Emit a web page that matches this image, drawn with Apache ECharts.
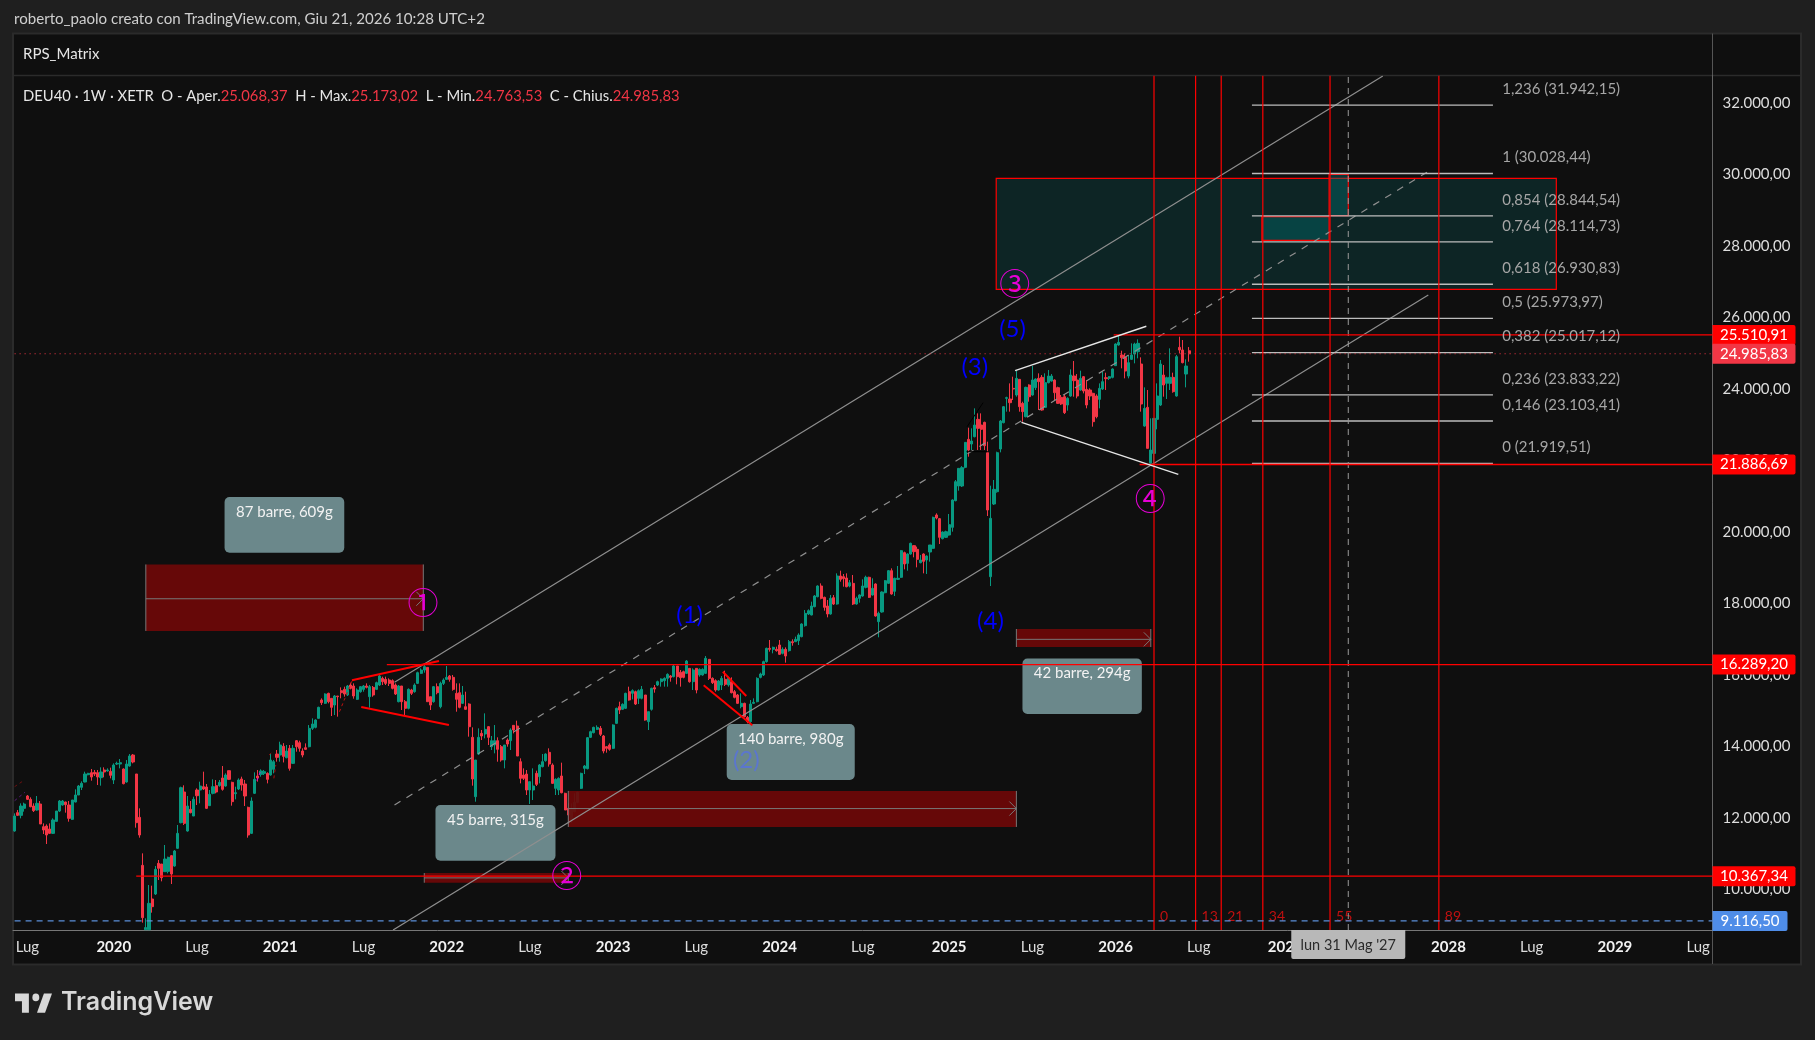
<!DOCTYPE html>
<html><head><meta charset="utf-8">
<style>html,body{margin:0;padding:0;background:#1f1f1f;overflow:hidden}#c{width:1815px;height:1040px}</style>
<script src="https://cdn.jsdelivr.net/npm/echarts@6/dist/echarts.min.js"></script>
</head><body><div id="c"></div>
<script>
// weekly candles [open, close, low, high], first week 2019-06-03
const weeks2019 = [[11632,12051,11613,12126],[12145,12070,12051,12219],[12070,12331,11986,12406],[12266,12387,12173,12425],[12611,12518,12499,12639],[12518,12313,12294,12574],[12331,12201,12163,12406],[12219,12406,12201,12611],[12387,11828,11828,12471],[11753,11660,11548,11846],[11772,11520,11268,11818],[11688,11566,11548,11846],[11566,11940,11548,11986],[11902,12191,11893,12191],[12191,12471,12163,12499],[12359,12471,12341,12499],[12443,12369,12145,12453],[12359,11986,11893,12471],[11958,12499,11940,12499],[12443,12639,12434,12798],[12639,12891,12639,12919],[12854,12965,12779,13021],[13003,13227,12993,13292],[13208,13245,13190,13260],[13264,13143,13040,13367],[13273,13227,13171,13339],[13264,13143,12919,13339],[13124,13283,12900,13413],[13339,13283,13133,13413],[13311,13339,13292,13385]];
const weeks2020 = [[13301,13190,13105,13404],[13059,13478,12947,13525],[13506,13525,13478,13572],[13506,13544,13385,13646],[13367,12956,12937,13385],[13003,13506,12984,13618],[13450,13730,13432,13786],[13758,13562,13525,13786],[13227,11865,11725,13227],[12014,11520,11445,12266],[10671,9207,9067,11007],[8870,8930,8870,9188],[8870,9608,8870,10121],[9729,9515,9347,10102],[9869,10559,9841,10652],[10727,10587,10261,10820],[10708,10326,10223,10708],[10494,10848,10494,11240],[10503,10895,10447,10914],[10941,10428,10149,10960],[10652,11072,10634,11100],[11147,11566,11128,11800],[11865,12844,11846,12872],[12723,11846,11800,12910],[11632,12331,11613,12611],[12238,12145,12126,12471],[12051,12518,12051,12592],[12779,12620,12359,12825],[12779,12891,12406,13012],[12872,12807,12779,13292],[12863,12266,12247,12947],[12341,12658,12331,12779],[12686,12872,12658,13077],[12900,12723,12686,13059],[12900,12993,12872,13059],[13115,12798,12760,13450],[12891,13199,12872,13245],[13320,13077,13059,13320],[12993,12453,12341,13012],[12676,12704,12518,12872],[12807,13059,12779,13105],[13087,12919,12760,13152],[12947,12611,12331,13059],[12294,11520,11445,12313],[11566,12471,11548,12574],[12686,13077,12667,13273],[13171,13115,13012,13339],[13217,13311,13152,13357],[13245,13292,13199,13339],[13245,13077,12965,13273],[13199,13618,13180,13805],[13357,13572,13245,13618]];
const weeks2021 = [[13786,13693,13572,13898],[13758,14038,13572,14131],[14000,13720,13550,14090],[13683,13870,13665,14038],[13945,13385,13320,14038],[13525,13945,13506,14038],[14159,13991,13851,14178],[14103,13945,13851,14159],[13870,13758,13693,13945],[13963,13917,13898,14084],[13991,14504,13973,14597],[14504,14626,14458,14784],[14532,14737,14504,14756],[14784,15092,14775,15110],[15297,15222,15157,15344],[15204,15465,15185,15484],[15484,15250,15204,15502],[15344,15092,14849,15344],[15157,15409,14877,15437],[15409,15390,14831,15409],[15558,15502,15344,15651],[15595,15465,15390,15670],[15437,15689,15409,15717],[15717,15623,15595,15782],[15689,15409,15334,15763],[15316,15577,15297,15623],[15530,15670,15502,15689],[15595,15689,15530,15717],[15689,15651,15623,15763],[15390,15670,15082,15717],[15651,15437,15390,15689],[15595,15782,15577,15810],[15717,15969,15689,15997],[15903,15810,15717,15950],[15875,15763,15717,15950],[15857,15763,15689,15903],[15838,15623,15595,15875],[15717,15465,15437,15763],[15250,15689,15232,15717],[15689,15250,15017,15689],[15250,15064,14877,15297],[15064,15595,15036,15623],[15577,15484,15437,15610],[15530,15717,15502,15763],[15763,16062,15745,16090],[16043,16136,16024,16183],[16136,16230,16062,16276],[16211,15250,15250,16211],[15390,15157,15017,15390],[15250,15670,15222,15689],[15670,15502,15455,15763],[15110,15763,15064,15810]];
const weeks2022 = [[15763,15857,15717,15903],[15875,15931,15857,16248],[15969,15875,15810,15997],[15931,15595,15558,15997],[15484,15316,14970,15763],[15502,15092,15064,15763],[15204,15437,15185,15689],[15110,15036,15017,15530],[15185,14551,14271,15204],[14253,13087,12900,14532],[12592,13618,12452,13618],[13786,14252,13758,14504],[14364,14290,14178,14458],[14346,14476,14224,14924],[14551,14252,14038,14570],[13991,14159,13898,14290],[14038,14159,13805,14597],[14159,13917,13571,14253],[13991,13618,13571,14038],[13618,14038,13385,14038],[14178,14066,13991,14224],[14159,14458,13898,14504],[14588,14458,14364,14597],[14570,13730,13730,14719],[13571,13105,12965,13665],[13198,13105,13059,13385],[13226,12779,12639,13338],[12779,13012,12387,13012],[12779,12891,12499,13385],[13245,12937,12891,13320],[13152,13478,12965,13506],[13432,13571,13413,13786],[13600,13786,13572,13805],[13833,13507,13432,13945],[13478,12965,12947,13525],[12825,13077,12639,13105],[12779,13105,12639,13133],[13171,12704,12686,13544],[12686,12219,12219,12704],[12266,12080,11860,12406],[11940,12266,11860,12406],[12173,12434,12154,12686],[12434,12714,12406,12732],[12826,13245,12807,13264],[13385,13450,13226,13478],[13376,14243,13357,14262],[14253,14411,14234,14439],[14383,14532,14364,14551],[14476,14532,14458,14588],[14504,14337,14290,14570],[14290,13870,13805,14318],[13991,13945,13824,14010],[14038,13917,13879,14085]];
const weeks2023 = [[13945,14598,13926,14617],[14644,15064,14626,15083],[15111,15017,14905,15250],[15036,15176,15017,15204],[15064,15484,15045,15502],[15530,15297,15279,15670],[15484,15558,15316,15596],[15530,15185,15157,15558],[15344,15558,15185,15596],[15344,15596,15316,15689],[15437,14737,14719,15437],[14691,14971,14458,14971],[15036,15624,15000,15642],[15642,15605,15502,15717],[15717,15810,15689,15838],[15810,15885,15670,15903],[15838,15903,15670,15931],[15903,16015,15670,16043],[15969,15931,15810,15997],[15950,16249,15931,16305],[16249,15950,15736,16249],[16071,15922,15670,16137],[16090,15931,15903,16118],[16043,16388,16025,16416],[16183,15810,15782,16183],[15810,16137,15577,16183],[16183,15577,15484,16183],[15997,16155,15950,16183],[15997,16155,15979,16183],[16043,16463,16025,16528],[16435,15903,15857,16435],[15903,15782,15745,15931],[15838,15577,15530,15875],[15577,15829,15558,15857],[15717,15903,15577,15969],[15875,15736,15689,16118],[15717,15903,15670,15931],[15810,15502,15484,15931],[15530,15372,15344,15577],[15437,15204,15185,15465],[15111,15204,15064,15484],[15204,14831,14812,15222],[14812,14691,14644,14850],[14691,15185,14644,15297],[15204,15232,15185,15344],[15250,15903,15232,15931],[15931,16025,15903,16062],[15997,16370,15969,16398],[16370,16743,16342,16762],[16743,16715,16650,16976],[16715,16771,16603,16790],[16715,16678,16650,16790]];
const weeks2024 = [[16836,16575,16556,16976],[16603,16715,16575,16771],[16715,16528,16342,16771],[16678,16929,16650,16976],[16929,16901,16817,16995],[16929,16995,16929,17070],[16957,17116,16836,17163],[17070,17424,17051,17443],[17377,17722,17349,17815],[17704,17797,17676,17834],[17676,17927,17666,18049],[17909,18207,17890,18235],[18188,18487,18170,18506],[18487,18142,18114,18561],[18170,17890,17797,18189],[17927,17704,17610,18095],[17704,18142,17685,18235],[18161,17983,17955,18235],[17983,18767,17965,18841],[18767,18673,18608,18916],[18748,18692,18468,18823],[18711,18468,18450,18841],[18487,18580,18450,18655],[18561,17983,17955,18795],[17983,18142,17965,18189],[18142,18235,18021,18254],[18207,18487,18189,18674],[18450,18730,18422,18776],[18730,18170,18151,18748],[18235,18422,18217,18702],[18543,17648,17629,18562],[17489,17722,17051,17769],[17760,18319,17741,18338],[18300,18636,18282,18655],[18562,18916,18543,18935],[18916,18263,18244,18981],[18338,18702,18207,18720],[18674,18702,18655,19047],[18730,19476,18711,19495],[19420,19103,18953,19448],[19121,19382,18916,19401],[19382,19681,19364,19700],[19616,19448,19289,19634],[19513,19233,19009,19588],[19140,19215,19121,19355],[19382,19177,18841,19401],[19215,19326,18823,19345],[19438,19634,19168,19634],[19541,20408,19522,20427],[20474,20390,20352,20520],[20371,19849,19662,20390],[19811,19998,19793,20017]];
const weeks2025 = [[19849,20007,19830,20035],[19914,20203,19896,20502],[20128,20893,20007,20912],[20875,21406,20856,21453],[21285,21779,21154,21779],[21285,21798,21257,21842],[21807,22506,21779,22506],[22590,22292,22105,22917],[22460,22544,22292,22898],[22665,22991,22646,23458],[23150,22898,22292,23318],[22991,22870,22292,23318],[23066,22413,22292,23085],[22217,20613,20445,22525],[18747,20380,18486,21294],[20781,21191,20753,21453],[21126,22217,21098,22245],[22320,23103,22227,23131],[23057,23504,23038,23523],[23738,23757,23365,23784],[23719,23616,23365,24157],[24017,23999,23691,24344],[23831,24297,23784,24512],[24269,23504,23365,24269],[23598,23365,23085,23644],[23225,24045,23206,24064],[24111,23784,23644,24129],[23831,24251,23812,24642],[24036,24279,23971,24297],[24297,24204,23411,24437],[24325,23411,23392,24390],[23486,24176,23467,24437],[24176,24362,24157,24530],[24222,24362,24204,24418],[24250,23896,23691,24269],[24036,23598,23579,24064],[23766,23579,23551,23831],[23784,23337,23299,23859],[23551,23738,23393,23766],[23803,24391,23784,24549],[24363,24232,23784,24782],[24250,23803,23738,24418],[23971,24297,23952,24512],[24344,23943,23877,24363],[23989,23551,23458,24250],[23971,23803,23691,24017],[23877,23085,22945,23896],[23803,23224,23178,23850],[23709,24017,23458,24157],[23999,24204,23971,24484],[24316,24288,23971,24456],[24297,24344,24250,24363]];
const weeks2026 = [[24325,24558,24297,24577],[24652,25258,24642,25277],[25230,25304,25211,25491],[24950,24875,24577,25071],[24885,24502,24297,24997],[24362,24736,24297,24950],[24829,24950,24810,25277],[24978,25258,24717,25295],[25043,25277,24857,25388],[24698,23579,23365,24885],[22963,23458,22945,24045],[23486,22338,22338,23971],[21919,22292,21900,23178],[22198,23178,21919,23178],[23150,23803,22870,24157],[23551,24698,23523,24810],[24390,24111,23784,24670],[24157,24316,23719,24344],[24157,24325,23971,25137],[24325,23924,23896,24456],[23803,24904,23784,24950],[25165,25090,24997,25463],[25090,24736,24717,25370],[24418,24642,24045,24829],[25068,24985.83,24763.53,25173.02]];
const candleRows = [].concat(weeks2019,weeks2020,weeks2021,weeks2022,weeks2023,weeks2024,weeks2025,weeks2026);

// axes
const barCount = 531;
const yMin = 8862, yMax = 32771;
const priceTicks = [10000,12000,14000,16000,18000,20000,22000,24000,26000,28000,30000,32000];
const timeTicks = {4:'Lug',31:'2020',57:'Lug',83:'2021',109:'Lug',135:'2022',161:'Lug',187:'2023',213:'Lug',239:'2024',265:'Lug',292:'2025',318:'Lug',344:'2026',370:'Lug',397:'2027',423:'Lug',448:'2028',474:'Lug',500:'2029',526:'Lug'};
const weekDates = [];
for (let i=0;i<barCount;i++){ weekDates.push(new Date(Date.UTC(2019,5,3+7*i)).toISOString().slice(0,10)); }

// drawings, in [week index, price]
const tagLevels = [
 {price:10367.34,text:'10.367,34',from:38,kind:'red'},
 {price:16289.20,text:'16.289,20',from:116.3,kind:'red'},
 {price:21886.69,text:'21.886,69',from:351.5,kind:'red'},
 {price:25510.91,text:'25.510,91',from:343.4,kind:'red'},
 {price:24985.83,text:'24.985,83',from:0,kind:'last'},
 {price:9116.50,text:'9.116,50',from:0,kind:'low'}];
const fibLevels = [[31942.15,'1,236 (31.942,15)'],[30028.44,'1 (30.028,44)'],[28844.54,'0,854 (28.844,54)'],[28114.73,'0,764 (28.114,73)'],[26930.83,'0,618 (26.930,83)'],[25973.97,'0,5 (25.973,97)'],[25017.12,'0,382 (25.017,12)'],[23833.22,'0,236 (23.833,22)'],[23103.41,'0,146 (23.103,41)'],[21919.51,'0 (21.919,51)']];
const fibFrom = 386.6, fibTo = 461.9, fibText = 464.8;
const timeZones = [[356,'0'],[369,'13'],[377,'21'],[390,'34'],[411,'55'],[445,'89']];
const timeZonePrice = 9234;
const crosshairWeek = 416.7;
const tealZones = [{a:306.7,b:481.7,hi:29895,lo:26789,k:0},{a:389.7,b:410.7,hi:28820,lo:28160,k:1},{a:410.7,b:416.7,hi:30006,lo:28848,k:1}];
const redBoxes = [{a:41,b:127.7,hi:19090,lo:17230,mid:18130},{a:128,b:173,hi:10456,lo:10185,mid:10320},{a:173,b:313,hi:12753,lo:11746,mid:12260},{a:313,b:355,hi:17284,lo:16780,mid:16995}];
const noteBoxes = [{a:65.6,b:103,hi:20977,lo:19419,t:'87 barre, 609g'},{a:131.5,b:169,hi:12359,lo:10801,t:'45 barre, 315g'},{a:222.5,b:262.5,hi:14626,lo:13059,t:'140 barre, 980g'},{a:314.9,b:352.2,hi:16456,lo:14906,t:'42 barre, 294g'}];
const channelLines = [[118.7,15793,427.5,32757],[118.25,8862,441.7,26629]];
const channelMid = [118.7,12359,441.4,30071];
const redLines = [[105.4,15849,132.6,16389],[108.3,15101,135.7,14598],[221.3,16089,228.6,15409],[215.3,15709,230.5,14590]];
const whiteLines = [[312.6,24511,353.6,25754],[314.6,23067,363.6,21612]];
const blackLines = [[297.6,22944,302.6,23616],[297.4,22245,304.1,22245]];
const smallDashes = [[101.5,14970,105.5,15849,'#c01010'],[0,12480,3.2,12714,'#5a1a7a'],[0,12872,2.6,13030,'#6b1010'],[75.7,13040,77,13339,'#e000e0'],[79.5,13758,80.6,13851,'#8b1010'],[81,13105,81.6,13478,'#b01010']];
const waveLabels = [[210.9,17670,'(1)','#0000ff'],[228.6,13620,'(2)','#5b76cf'],[300,24610,'(3)','#0000ff'],[304.9,17490,'(4)','#0000ff'],[311.8,25660,'(5)','#0000ff']];
const circleLabels = [[127.6,18031,'①'],[172.5,10381,'②'],[312.5,26948,'③'],[354.8,20930,'④']];
const hoverDate = "lun 31 Mag '27";

const FONT = 'Lato, "Liberation Sans", sans-serif';
function pt(api,i,p){const f=Math.floor(i),a=api.coord([f,p]),b=api.coord([f+1,p]);return [a[0]+(b[0]-a[0])*(i-f),a[1]];}
function seg(api,x1,p1,x2,p2,stroke,w,dash){const a=pt(api,x1,p1),b=pt(api,x2,p2);return {type:'line',shape:{x1:a[0],y1:a[1],x2:b[0],y2:b[1]},style:{stroke,lineWidth:w,lineDash:dash||null,fill:null}};}
function box(api,it,style,r){const a=pt(api,it.a,it.hi),b=pt(api,it.b,it.lo);return {type:'rect',shape:{x:a[0],y:a[1],width:b[0]-a[0],height:b[1]-a[1],r:r||0},style};}
function txt(x,y,text,fill,size,opt){return {type:'text',x,y,style:Object.assign({text,fill,font:(opt&&opt.weight||'normal')+' '+size+'px '+(opt&&opt.family||FONT),align:opt&&opt.align||'center',verticalAlign:'middle'})};}
function layer(name,items,draw,z,clip){return {type:'custom',name,coordinateSystem:'cartesian2d',clip:clip!==false,z:z||3,silent:true,animation:false,encode:{x:0,y:1},
  data:items.map((_,i)=>[i,yMin+100]),renderItem:(p,api)=>draw(items[p.dataIndex],api)};}

const series = [
 {type:'candlestick',name:'DEU40',z:2,animation:false,barWidth:2.6,silent:true,
  data:candleRows,
  itemStyle:{color:'#089981',color0:'#f23645',borderColor:'#089981',borderColor0:'#f23645',borderWidth:1}},
 layer('teal',tealZones,(it,api)=>box(api,it,{fill:it.k?'rgba(0,110,110,0.42)':'rgba(8,110,110,0.24)',stroke:'#ff0000',lineWidth:1.2}),3),
 layer('redBoxes',redBoxes,(it,api)=>{
   const a=pt(api,it.a,it.mid),b=pt(api,it.b,it.mid);
   return {type:'group',children:[
     box(api,it,{fill:'rgba(110,8,8,0.92)'}),
     seg(api,it.a,it.hi,it.a,it.lo,'#777',1),seg(api,it.b,it.hi,it.b,it.lo,'#777',1),
     seg(api,it.a,it.mid,it.b,it.mid,'#777',1),
     {type:'polyline',shape:{points:[[b[0]-7,b[1]-7],[b[0],b[1]],[b[0]-7,b[1]+7]]},style:{stroke:'#777',fill:null,lineWidth:1}}
   ]};},3),
 layer('notes',noteBoxes,(it,api)=>{const a=pt(api,it.a,it.hi),b=pt(api,it.b,it.hi);
   return {type:'group',children:[box(api,it,{fill:'rgba(118,150,153,0.9)'},5),txt((a[0]+b[0])/2,a[1]+15,it.t,'#f2f2f2',15)]};},4),
 layer('channel',channelLines,(l,api)=>seg(api,l[0],l[1],l[2],l[3],'#8f8f8f',1.2),5),
 layer('channelMid',[channelMid],(l,api)=>seg(api,l[0],l[1],l[2],l[3],'#8f8f8f',1.2,[7,7]),5),
 layer('fibLines',fibLevels,(f,api)=>seg(api,fibFrom,f[0],fibTo,f[0],'#bdbdbd',1.3),5),
 layer('timeZones',timeZones,(t,api)=>{const a=pt(api,t[0],yMin),b=pt(api,t[0],yMax),c=pt(api,t[0],timeZonePrice);
   return {type:'group',children:[{type:'line',shape:{x1:a[0],y1:a[1],x2:b[0],y2:b[1]},style:{stroke:'#ff0000',lineWidth:1.2}},
     txt(c[0]+6,c[1],t[1],'#c01010',14,{align:'left'})]};},6),
 layer('crosshair',[crosshairWeek],(w,api)=>seg(api,w,yMin,w,yMax,'#9a9a9a',1,[6,5]),6),
 layer('levels',tagLevels,(l,api)=>{
   const k=l.kind, col=k==='red'?'#ff0000':k==='last'?'#f23645':'#5b8fd9';
   return seg(api,l.from,l.price,barCount-0.5,l.price,col,k==='red'?1.3:1.1,k==='last'?[1,4]:k==='low'?[6,5]:null);},6),
 layer('redLines',redLines,(l,api)=>seg(api,l[0],l[1],l[2],l[3],'#ff0000',2),6),
 layer('whiteLines',whiteLines,(l,api)=>seg(api,l[0],l[1],l[2],l[3],'#e6e6e6',1.4),6),
 layer('blackLines',blackLines,(l,api)=>seg(api,l[0],l[1],l[2],l[3],'#000000',1),6),
 layer('dashes',smallDashes,(l,api)=>seg(api,l[0],l[1],l[2],l[3],l[4],1,[3,3]),6),
 layer('fibText',fibLevels,(f,api)=>{const a=pt(api,fibText,f[0]);return txt(a[0],a[1]-16,f[1],'#a6a6a6',15,{align:'left'});},7),
 layer('waves',waveLabels,(w,api)=>{const a=pt(api,w[0],w[1]);return txt(a[0],a[1],w[2],w[3],24);},7),
 layer('circles',circleLabels,(w,api)=>{const a=pt(api,w[0],w[1]);return txt(a[0],a[1],w[2],'#e600d6',31,{family:'"Noto Sans CJK SC"'});},7),
 layer('tags',tagLevels,(l,api)=>{
   const a=pt(api,barCount-0.5,l.price), k=l.kind, col=k==='red'?'#ff0000':k==='last'?'#f23645':'#4f8de8', w=k==='low'?75:83;
   return {type:'group',children:[{type:'rect',shape:{x:a[0],y:a[1]-10,width:w,height:20,r:[0,2,2,0]},style:{fill:col}},
     txt(a[0]+w/2,a[1],l.text,'#ffffff',15)]};},9,false),
 layer('hover',[hoverDate],(t,api)=>{const a=pt(api,crosshairWeek,yMin);
   return {type:'group',children:[{type:'rect',shape:{x:a[0]-57,y:a[1],width:114,height:29,r:[0,0,2,2]},style:{fill:'#b8b8b8'}},
     txt(a[0],a[1]+15,t,'#2a2a2a',14.5)]};},9,false)
];

const chart = echarts.init(document.getElementById('c'),null,{renderer:'canvas',width:1815,height:1040});
chart.setOption({
 animation:false,backgroundColor:'#1f1f1f',
 grid:{left:13,top:75.5,width:1699.5,height:854.5},
 xAxis:{type:'category',data:weekDates,boundaryGap:true,
  axisLine:{show:true,lineStyle:{color:'#777',width:1}},axisTick:{show:false},splitLine:{show:false},
  axisLabel:{color:'#dddddd',fontFamily:FONT,fontSize:15,margin:10,hideOverlap:false,
   interval:(i)=>timeTicks[i]!==undefined,
   formatter:(v,i)=>{const t=timeTicks[i];if(t===undefined)return '';return t==='Lug'?t:'{y|'+t+'}';},
   rich:{y:{fontWeight:'bold',color:'#f2f2f2',fontFamily:FONT,fontSize:15}}}},
 yAxis:{type:'value',position:'right',min:yMin,max:yMax,scale:true,
  axisLine:{show:true,lineStyle:{color:'#666',width:1}},axisTick:{show:false},splitLine:{show:false},
  axisLabel:{color:'#dddddd',fontFamily:FONT,fontSize:15,margin:10,customValues:priceTicks,
   formatter:(v)=>String(Math.round(v)).replace(/\B(?=(\d{3})+$)/g,'.')+',00'}},
 series,
 graphic:{elements:[
  {type:'rect',z:-10,silent:true,shape:{x:13,y:33.5,width:1788,height:931},style:{fill:'#0f0f0f',stroke:'#2b2b2b',lineWidth:2}},
  {type:'line',z:-9,silent:true,shape:{x1:13,y1:75.5,x2:1801,y2:75.5},style:{stroke:'#2b2b2b',lineWidth:1.5}},
  {type:'line',z:-9,silent:true,shape:{x1:1712.5,y1:33.5,x2:1712.5,y2:964},style:{stroke:'#555',lineWidth:1}},
  {type:'text',x:14,y:19.5,silent:true,style:{text:'roberto_paolo creato con TradingView.com, Giu 21, 2026 10:28 UTC+2',fill:'#cfcfcf',font:'15.1px '+FONT,verticalAlign:'middle'}},
  {type:'text',x:23,y:54.5,silent:true,style:{text:'RPS_Matrix',fill:'#e6e6e6',font:'15px '+FONT,verticalAlign:'middle'}},
  {type:'text',x:23,y:96,z:10,silent:true,style:{verticalAlign:'middle',
    text:'{w|DEU40 · 1W · XETR  O - Aper.}{r|25.068,37}{w|  H - Max.}{r|25.173,02}{w|  L - Min.}{r|24.763,53}{w|  C - Chius.}{r|24.985,83}',
    rich:{w:{fill:'#e6e6e6',font:'14.8px '+FONT},r:{fill:'#f23645',font:'14.8px '+FONT}}}},
  {type:'group',x:12.7,y:986,scaleX:1.156,scaleY:1.27,silent:true,children:[
    {type:'polygon',shape:{points:[[2,6],[14,6],[14,21],[8,21],[8,12],[2,12]]},style:{fill:'#d8d8d8'}},
    {type:'polygon',shape:{points:[[28,21],[21,21],[27,6],[34,6]]},style:{fill:'#d8d8d8'}},
    {type:'circle',shape:{cx:20,cy:9,r:3},style:{fill:'#d8d8d8'}}]},
  {type:'text',x:61,y:1002,silent:true,style:{text:'TradingView',fill:'#d8d8d8',font:'600 25px Inter, '+FONT,verticalAlign:'middle'}}
 ]}
});
</script></body></html>
